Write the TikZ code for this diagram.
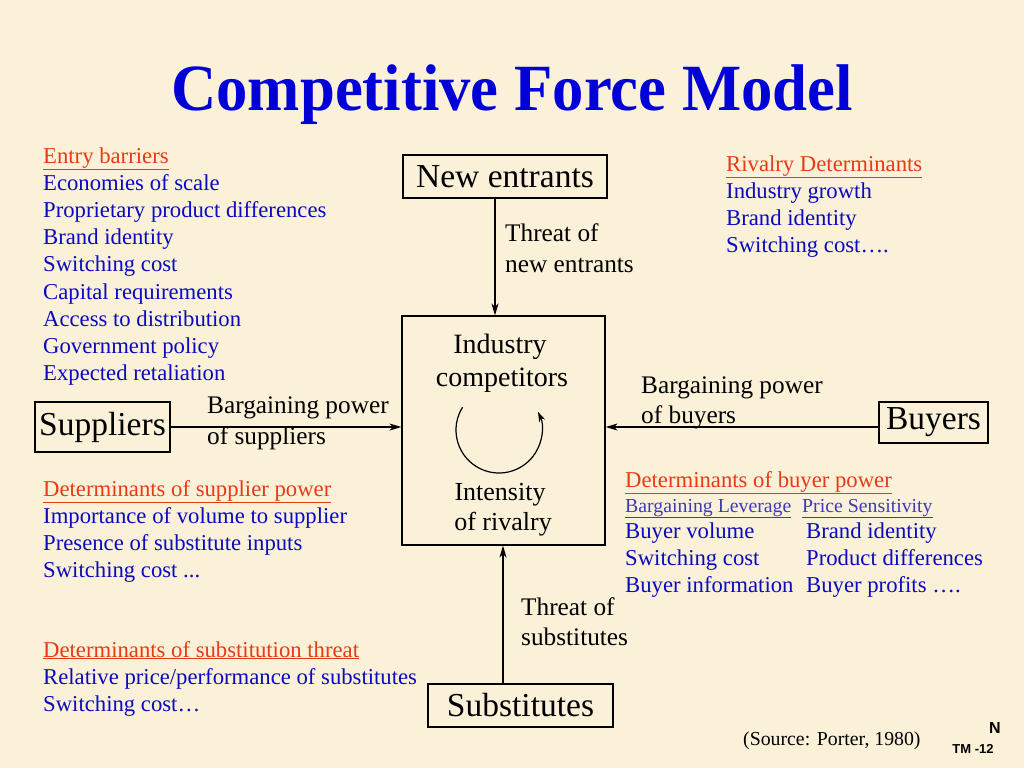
\documentclass[tikz,border=0pt]{standalone}
\usepackage{fontspec}
\setmainfont{Liberation Serif}
\newfontfamily\arialfont{Liberation Sans}
\usetikzlibrary{arrows.meta}
\definecolor{bgc}{RGB}{251,241,216}
\definecolor{tblue}{RGB}{10,10,190}
\definecolor{ttitle}{RGB}{0,0,215}
\definecolor{tred}{RGB}{232,58,22}
\definecolor{lblue}{RGB}{60,60,185}
\tikzset{
  txt/.style={anchor=base west, inner sep=0pt, text=tblue, font=\fontsize{22.7}{26}\selectfont},
  hdr/.style={txt, text=tred},
  lbl/.style={anchor=base west, inner sep=0pt, text=black, font=\fontsize{25.3}{28}\selectfont},
  ctr/.style={anchor=base, inner sep=0pt, text=black, font=\fontsize{26}{28}\selectfont},
  ctrbig/.style={ctr, font=\fontsize{28}{30}\selectfont},
  forcebox/.style={draw=black, line width=1.2pt, inner sep=0pt, font=\fontsize{33.5}{36}\selectfont},
  arr/.style={line width=1.3pt, -{Stealth[length=12pt,width=7pt,inset=3.5pt]}},
}
\begin{document}
\begin{tikzpicture}[x=1pt,y=-1pt]
\fill[bgc] (0,0) rectangle (1024,768);
\useasboundingbox (0,0) rectangle (1024,768);
% title
\node[anchor=base, inner sep=0pt, text=ttitle, font=\fontsize{66}{70}\selectfont\bfseries, xscale=0.95] (title) at (512,110) {Competitive Force Model};
% boxes
\node[forcebox, minimum width=204pt, minimum height=43pt] (ne) at (505,176.5) {New entrants};
\node[draw=black, line width=1.2pt, minimum width=203pt, minimum height=229pt, inner sep=0pt] (ind) at (503.5,430.5) {};
\node[forcebox, minimum width=135pt, minimum height=50pt] (sup) at (102.5,427) {Suppliers};
\node[forcebox, minimum width=109pt, minimum height=41pt] (buy) at (933.5,422.5) {Buyers};
\node[forcebox, minimum width=185pt, minimum height=43pt] (sub) at (520.5,705.5) {Substitutes};
% industry text
\node[ctrbig] (ind1) at (500,353) {Industry};
\node[ctrbig] (ind2) at (502,386) {competitors};
\node[ctr] (ind3) at (500,500) {Intensity};
\node[ctr] (ind4) at (503,530) {of rivalry};
\draw[line width=1.2pt, -{Stealth[length=10pt,width=6.5pt,inset=3pt]}] (499,430) ++(-148:43) arc[start angle=-148, end angle=-385, radius=43];
% connectors
\coordinate (cx1) at (495,0);
\coordinate (cx2) at (503,0);
\coordinate (cy1) at (0,427);
\draw[arr] (ne.south -| cx1) -- (ind.north -| cx1);
\draw[arr] (sup.east |- cy1) -- (ind.west |- cy1);
\draw[arr] (buy.west |- cy1) -- (ind.east |- cy1);
\draw[arr] (sub.north -| cx2) -- (ind.south -| cx2);
% connector labels
\node[lbl] (l1a) at (505,241) {Threat of};
\node[lbl] (l1b) at (505,272) {new entrants};
\node[lbl] (l2a) at (207,413) {Bargaining power};
\node[lbl] (l2b) at (207,444) {of suppliers};
\node[lbl] (l3a) at (641,393) {Bargaining power};
\node[lbl] (l3b) at (641,423) {of buyers};
\node[lbl] (l4a) at (521,615) {Threat of};
\node[lbl] (l4b) at (521,645) {substitutes};
% entry barriers
\node[hdr] (eb0) at (43,163) {\underline{Entry barriers}};
\node[txt] (eb1) at (43,190.2) {Economies of scale};
\node[txt] (eb2) at (43,217.4) {Proprietary product differences};
\node[txt] (eb3) at (43,244.6) {Brand identity};
\node[txt] (eb4) at (43,271.8) {Switching cost};
\node[txt] (eb5) at (43,299) {Capital requirements};
\node[txt] (eb6) at (43,326.2) {Access to distribution};
\node[txt] (eb7) at (43,353.4) {Government policy};
\node[txt] (eb8) at (43,380.6) {Expected retaliation};
% rivalry
\node[hdr] (rv0) at (726,171) {\underline{Rivalry Determinants}};
\node[txt] (rv1) at (726,198.2) {Industry growth};
\node[txt] (rv2) at (726,225.4) {Brand identity};
\node[txt] (rv3) at (726,252.6) {Switching cost\ldots.};
% supplier power
\node[hdr] (sp0) at (43,496) {\underline{Determinants of supplier power}};
\node[txt] (sp1) at (43,523.2) {Importance of volume to supplier};
\node[txt] (sp2) at (43,550.4) {Presence of substitute inputs};
\node[txt] (sp3) at (43,577.6) {Switching cost ...};
% substitution threat
\node[hdr] (st0) at (43,657) {\underline{Determinants of substitution threat}};
\node[txt] (st1) at (43,684.2) {Relative price/performance of substitutes};
\node[txt] (st2) at (43,711.4) {Switching cost\ldots};
% buyer power
\node[hdr] (bp0) at (625,487) {\underline{Determinants of buyer power}};
\node[txt, text=lblue, font=\fontsize{19.8}{22}\selectfont] (bp1) at (625,512) {\underline{Bargaining Leverage}};
\node[txt, text=lblue, font=\fontsize{19.8}{22}\selectfont] (bp2) at (802,512) {\underline{Price Sensitivity}};
\node[txt] (bp3) at (625,538.5) {Buyer volume};
\node[txt] (bp4) at (806,538.5) {Brand identity};
\node[txt] (bp5) at (625,565.5) {Switching cost};
\node[txt] (bp6) at (806,565.5) {Product differences};
\node[txt] (bp7) at (625,592.5) {Buyer information};
\node[txt] (bp8) at (806,592.5) {Buyer profits \ldots.};
% footer
\node[anchor=base west, inner sep=0pt, font=\fontsize{19.8}{22}\selectfont] (src) at (743,745) {(Source: Porter, 1980)};
\node[anchor=base, inner sep=0pt, font=\arialfont\bfseries\fontsize{16}{18}\selectfont] (nn) at (995,733) {N};
\node[anchor=base, inner sep=0pt, font=\arialfont\bfseries\fontsize{13}{15}\selectfont] (tm) at (973,753) {TM -12};
\end{tikzpicture}
\end{document}
